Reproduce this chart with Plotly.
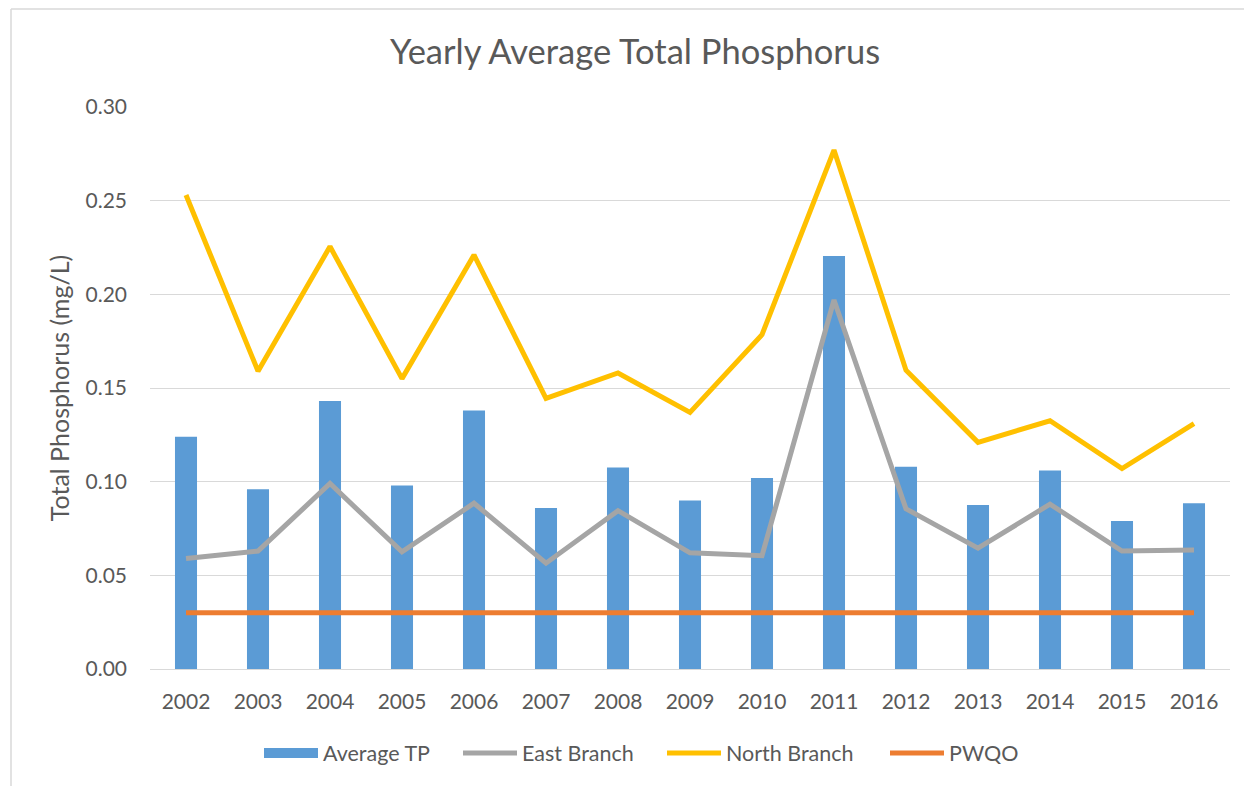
import plotly.graph_objects as go

years = ["2002", "2003", "2004", "2005", "2006", "2007", "2008", "2009",
         "2010", "2011", "2012", "2013", "2014", "2015", "2016"]
average_tp = [0.124, 0.096, 0.143, 0.098, 0.138, 0.086, 0.1075, 0.090,
              0.102, 0.2205, 0.108, 0.0875, 0.106, 0.079, 0.0885]
east_branch = [0.059, 0.063, 0.099, 0.0625, 0.0885, 0.0565, 0.0845, 0.062,
               0.0605, 0.197, 0.0855, 0.0645, 0.088, 0.063, 0.0635]
north_branch = [0.253, 0.159, 0.2255, 0.155, 0.221, 0.1445, 0.158, 0.137,
                0.1785, 0.277, 0.1595, 0.121, 0.1325, 0.107, 0.131]
pwqo = [0.03] * len(years)
y_ticks = [0.00, 0.05, 0.10, 0.15, 0.20, 0.25, 0.30]
y_tick_labels = ["0.00", "0.05", "0.10", "0.15", "0.20", "0.25", "0.30"]

FONT = "Lato"
TXT = "#595959"
BLUE, GRAY, YELLOW, ORANGE = "#5B9BD5", "#A5A5A5", "#FFC000", "#ED7D31"

fig = go.Figure()
fig.add_trace(go.Bar(x=years, y=average_tp, name="Average TP", showlegend=False,
                     marker=dict(color=BLUE, line=dict(width=0))))
# legend-only entry so the swatch is a wide rectangle like the original
fig.add_trace(go.Scatter(x=[None], y=[None], name="Average TP", mode="lines",
                         line=dict(color=BLUE, width=13), legend="legend"))
fig.add_trace(go.Scatter(x=years, y=east_branch, name="East Branch", mode="lines",
                         line=dict(color=GRAY, width=5), legend="legend2"))
fig.add_trace(go.Scatter(x=years, y=north_branch, name="North Branch", mode="lines",
                         line=dict(color=YELLOW, width=5), legend="legend3"))
fig.add_trace(go.Scatter(x=years, y=pwqo, name="PWQO", mode="lines",
                         line=dict(color=ORANGE, width=5), legend="legend4"))

# page body offsets the figure by 8px; helpers take on-screen pixel positions
OFF = 8
W, H = 1252, 786
SL, SR, ST, SB = 150, 1230, 107, 669          # plot area on screen
pw, ph = SR - SL, SB - ST
def px(x):
    return (x - SL) / pw
def py(y):
    return (SB - y) / ph

LEG_D = 5
def leg(xs):
    return dict(orientation="h", x=px(xs - LEG_D), y=py(753), xanchor="left",
                yanchor="middle", font=dict(family=FONT, size=21.5, color=TXT),
                itemwidth=54, bgcolor="rgba(0,0,0,0)")

fig.update_layout(
    width=W, height=H,
    margin=dict(l=SL - OFF, r=W - (SR - OFF), t=ST - OFF, b=H - (SB - OFF)),
    paper_bgcolor="white", plot_bgcolor="white",
    font=dict(family=FONT, color=TXT, size=21),
    title=dict(text="Yearly Average Total Phosphorus", x=(635 - OFF) / W, xref="container",
               xanchor="center", y=1 - (52 - OFF) / H, yref="container", yanchor="middle",
               font=dict(family=FONT, size=34.5, color=TXT)),
    bargap=0.694,
    showlegend=True,
    legend=leg(264), legend2=leg(463), legend3=leg(667), legend4=leg(890),
    xaxis=dict(type="category", showgrid=False, showline=False, zeroline=False,
               ticks="", ticklabelstandoff=18, tickfont=dict(size=21, color=TXT)),
    yaxis=dict(range=[0, 0.30], tickvals=y_ticks, ticktext=y_tick_labels,
               showgrid=True, gridcolor="#D9D9D9", gridwidth=1.3, zeroline=True,
               zerolinecolor="#D9D9D9", zerolinewidth=1.3, showline=False, ticks="",
               ticklabelstandoff=22, tickfont=dict(size=21, color=TXT),
               title=dict(text="Total Phosphorus (mg/L)", standoff=8,
                          font=dict(size=25, color=TXT))),
    shapes=[
        dict(type="line", xref="paper", yref="paper", x0=px(11), x1=px(11),
             y0=py(9), y1=py(800), line=dict(color="#D9D9D9", width=1.5)),
        dict(type="line", xref="paper", yref="paper", x0=px(11), x1=px(1270),
             y0=py(9), y1=py(9), line=dict(color="#D9D9D9", width=1.5)),
    ],
)

fig.write_html("out.html")
